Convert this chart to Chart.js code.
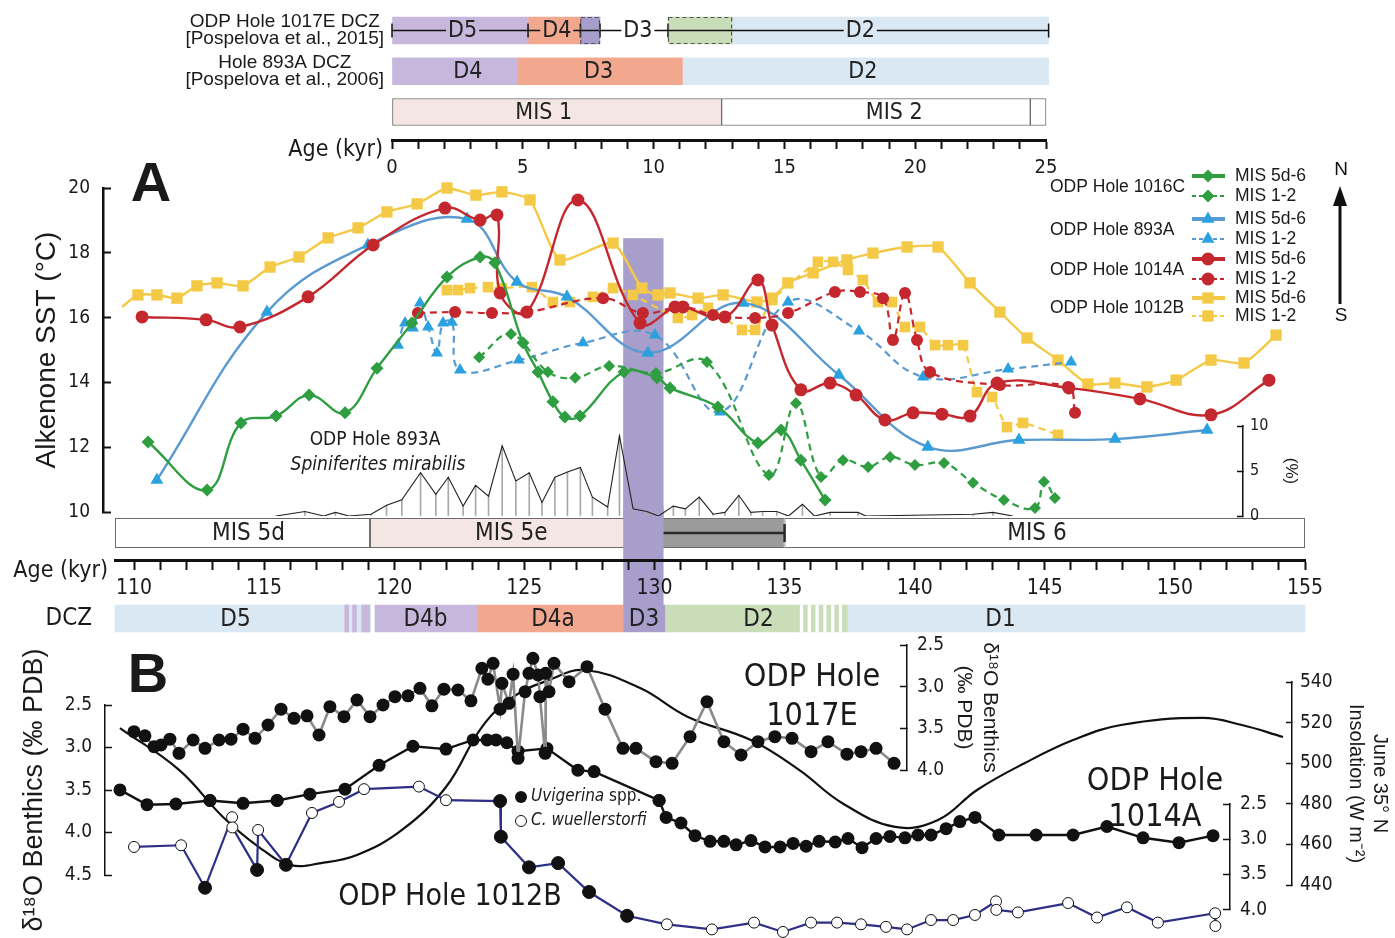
<!DOCTYPE html>
<html>
<head>
<meta charset="utf-8">
<title>Alkenone SST and benthic d18O, MIS 1-2 and MIS 5d-6</title>
<script src="https://cdn.jsdelivr.net/npm/chart.js@4.4.1/dist/chart.umd.min.js"></script>
<style>
  html, body { margin: 0; padding: 0; background: #fff; }
  #fig { position: relative; width: 1395px; height: 938px; overflow: hidden; background: #fff; }
  #fig canvas { position: absolute; left: 0; top: 0; }
</style>
</head>
<body>
<div id="fig"></div>
<script>
// ---------- data (ages in kyr) ----------

// zone bars above panel A (upper age axis, 0-25 kyr)
const dcz1017 = ['D5', 'D4', '', 'D3', '', 'D2'];
const dcz1017Ages = [[0, 5.2], [5.2, 7.2], [7.2, 7.95], [7.95, 10.55], [10.55, 13.0], [13.0, 25.1]];
const dcz1017LabelAt = [2.7, 6.3, null, 9.4, null, 17.9];
const timeline1017 = [0, 5.2, 7.2, 7.95, 10.55, 25.1];
const dcz893 = ['D4', 'D3', 'D2'];
const dcz893Ages = [[0, 4.8], [4.8, 11.1], [11.1, 25.1]];
const dcz893LabelAt = [2.9, 7.9, 18.0];
const mis12 = ['MIS 1', 'MIS 2', ''];
const mis12Ages = [[0, 12.6], [12.6, 24.4], [24.4, 25.0]];
const mis12LabelAt = [5.8, 19.2, null];

// zone bars below panel A (lower age axis, 110-155 kyr)
const mis5 = ['MIS 5d', 'MIS 5e', '', 'MIS 6'];
const mis5Ages = [[109.27, 119.07], [119.07, 130.1], [130.1, 135.0], [135.0, 155.0]];
const mis5LabelAt = [114.4, 124.5, null, 144.7];
const misErrorBar = [130.1, 135.0];
const dczZones = ['D5', 'D4b', 'D4a', 'D3', 'D2', '', 'D1'];
const dczAges = [[109.27, 119.1], [119.26, 123.2], [123.2, 128.8], [128.8, 130.4], [130.4, 135.4], [135.4, 137.4], [137.4, 155.0]];
const dczLabelAt = [113.9, 121.2, 126.1, 129.6, 134.0, null, 143.3];
const dczStripesD5 = [[118.1, 118.25], [118.4, 118.55], [118.75, 119.05]];
const dczStripesD2 = [[135.6, 135.7], [135.9, 136.0], [136.2, 136.3], [136.5, 136.6], [136.8, 136.9], [137.1, 137.2]];
const bandAges = [128.8, 130.35];
const bandTopSST = 18.45;

// panel A: alkenone SST (degC); *_5 = MIS 5d-6 (lower axis), *_1 = MIS 1-2 (upper axis)
const sst1016C_5 = [[110.54, 12.16], [112.81, 10.68], [114.11, 12.75], [115.46, 12.96], [116.73, 13.61], [118.11, 13.06],
  [119.34, 14.44], [120.68, 15.83], [122.03, 17.25], [123.30, 17.87], [123.87, 17.69], [124.95, 15.22], [125.53, 14.32],
  [126.10, 13.40], [126.56, 12.93], [127.14, 12.96], [128.83, 14.32], [130.10, 14.14], [130.60, 13.83], [132.44, 13.24],
  [133.98, 12.13], [134.87, 12.53], [135.63, 11.60], [136.56, 10.37]];
const sst1016C_1 = [[3.33, 14.78], [4.55, 15.49], [5.96, 14.32], [7.00, 14.14], [8.30, 14.51], [10.09, 14.29], [12.04, 14.63],
  [14.41, 11.14], [15.44, 13.36], [16.40, 11.08], [17.24, 11.60], [18.20, 11.39], [19.04, 11.70], [19.99, 11.45],
  [21.10, 11.51], [22.21, 10.90], [23.39, 10.37], [24.58, 10.12], [24.92, 10.93], [25.34, 10.43]];
const sst893A_5 = [[110.88, 10.99], [115.11, 16.17], [118.99, 18.24], [122.80, 19.04], [124.72, 17.10], [126.64, 16.64],
  [129.75, 14.91], [133.41, 16.45], [137.09, 14.23], [140.51, 12.01], [144.01, 12.22], [147.70, 12.25], [151.24, 12.53]];
const sst893A_1 = [[0.23, 15.15], [0.50, 15.83], [0.80, 15.68], [1.07, 16.45], [1.38, 15.71], [1.72, 14.91], [1.95, 15.83],
  [2.29, 15.86], [2.60, 14.38], [4.85, 14.69], [7.30, 15.22], [10.05, 15.46], [12.54, 13.09], [15.14, 16.48],
  [17.85, 15.59], [20.30, 14.17], [23.55, 14.41], [25.96, 14.63]];
const sst1014A_5 = [[110.31, 16.02], [112.77, 15.93], [114.07, 15.71], [116.69, 16.64], [119.19, 18.24], [121.95, 19.38],
  [123.30, 19.01], [123.95, 19.17], [124.07, 16.76], [125.10, 16.17], [127.06, 19.63], [129.45, 15.83], [130.79, 16.33],
  [131.10, 16.33], [132.71, 16.02], [133.98, 17.16], [134.52, 15.77], [135.63, 13.77], [136.75, 13.98], [137.75, 13.61],
  [138.86, 12.84], [139.94, 13.06], [141.05, 13.02], [142.13, 12.96], [143.17, 13.98], [145.93, 13.83], [148.66, 13.49],
  [151.39, 13.00], [153.62, 14.07]];
const sst1014A_1 = [[0.99, 16.14], [2.41, 16.17], [3.82, 16.14], [5.16, 16.17], [8.07, 16.60], [9.59, 16.14], [11.12, 16.33],
  [12.27, 16.08], [13.88, 15.99], [15.14, 16.14], [16.93, 16.79], [17.89, 16.79], [18.77, 16.60], [19.15, 15.31],
  [19.61, 16.76], [20.07, 15.31], [20.57, 14.32], [23.24, 13.92], [25.84, 13.86], [26.11, 13.06]];
const sst1012B_5 = [[109.54, 16.33], [110.15, 16.70], [110.88, 16.70], [111.65, 16.60], [112.42, 16.98], [113.19, 17.07],
  [114.19, 16.98], [115.23, 17.56], [116.34, 17.87], [117.46, 18.46], [118.61, 18.77], [119.72, 19.26], [120.88, 19.51],
  [122.03, 20.00], [123.14, 19.78], [124.14, 19.88], [125.22, 19.63], [126.37, 17.78], [128.41, 18.30], [129.52, 16.91],
  [130.14, 16.70], [130.60, 16.76], [131.68, 16.60], [132.64, 16.70], [133.94, 16.48], [134.52, 16.60], [135.13, 17.07],
  [136.10, 17.38], [137.40, 17.78], [138.40, 17.99], [139.71, 18.18], [140.90, 18.18], [142.13, 17.07], [143.28, 16.17],
  [144.32, 15.37], [145.51, 14.69], [146.66, 13.95], [147.70, 13.98], [148.93, 13.86], [150.05, 14.07], [151.39, 14.69],
  [152.66, 14.60], [153.89, 15.46]];
const sst1012B_1 = [[2.10, 16.85], [2.52, 16.85], [2.98, 16.91], [3.67, 16.94], [4.20, 16.91], [5.35, 16.94], [6.15, 16.48],
  [6.80, 16.48], [7.68, 16.64], [8.45, 16.91], [9.21, 16.70], [10.93, 15.99], [11.47, 16.08], [12.08, 16.30],
  [13.38, 15.62], [13.88, 15.62], [14.53, 16.54], [16.28, 17.72], [16.86, 17.72], [17.43, 17.47], [18.00, 17.16],
  [18.58, 16.48], [19.11, 16.48], [19.61, 15.71], [20.18, 15.71], [20.76, 15.15], [21.25, 15.15], [21.83, 15.15],
  [22.36, 13.70], [22.94, 13.55], [23.51, 12.62], [24.12, 12.75], [25.46, 12.38]];

// ODP Hole 893A Spiniferites mirabilis (%)
const spin893A = [[113.55, 0.0], [114.80, 0.5], [115.61, 0.0], [116.12, 0.4], [116.71, 0.0], [117.66, 0.2],
  [118.33, 1.2], [118.99, 1.8], [119.80, 4.8], [120.46, 2.4], [121.00, 4.3], [121.64, 1.1], [122.18, 3.4],
  [122.74, 2.2], [123.33, 7.8], [123.92, 3.9], [124.50, 4.8], [125.05, 1.5], [125.61, 4.3], [126.15, 4.9],
  [126.71, 5.4], [127.23, 2.1], [127.89, 1.0], [128.40, 8.9], [128.99, 0.8], [129.58, 0.5], [130.09, 0.0],
  [130.73, 1.1], [131.25, 0.8], [131.85, 2.1], [132.45, 0.2], [132.96, 0.4], [133.56, 2.3], [134.08, 0.4],
  [134.59, 0.5], [135.20, 0.5], [135.71, 0.0], [136.31, 1.3], [136.83, 0.0], [137.51, 0.4], [138.71, 0.4],
  [139.06, 0.0], [143.69, 0.2], [144.55, 0.4], [145.40, 0.0]];

// panel B: benthic d18O (per mil PDB) and June 35N insolation (W m-2)
const d18O_1017E = [[110.00, 3.54], [110.42, 3.59], [110.77, 3.72], [111.04, 3.70], [111.38, 3.63], [111.73, 3.80],
  [112.27, 3.64], [112.73, 3.74], [113.27, 3.64], [113.73, 3.63], [114.19, 3.51], [114.65, 3.62], [115.15, 3.46],
  [115.65, 3.27], [116.15, 3.38], [116.65, 3.35], [117.11, 3.58], [117.53, 3.24], [118.07, 3.36], [118.57, 3.16],
  [119.07, 3.36], [119.57, 3.22], [120.03, 3.12], [120.53, 3.11], [120.99, 3.02], [121.45, 3.23], [121.91, 3.03],
  [122.45, 3.04], [122.95, 3.17], [123.37, 2.78], [123.60, 2.91], [123.80, 2.72], [124.07, 3.27], [124.14, 2.96],
  [124.41, 3.20], [124.57, 2.85], [124.76, 3.86], [125.03, 3.06], [125.18, 2.84], [125.33, 2.66], [125.53, 2.86],
  [125.60, 3.12], [125.80, 3.80], [125.82, 2.84], [125.95, 3.06], [126.14, 2.72], [126.72, 2.94], [127.41, 2.76],
  [128.10, 3.27], [128.79, 3.74], [129.29, 3.74], [130.06, 3.90], [130.68, 3.92], [131.37, 3.60], [132.02, 3.18],
  [132.67, 3.66], [133.33, 3.82], [133.98, 3.66], [134.63, 3.60], [135.29, 3.62], [136.02, 3.78], [136.67, 3.66],
  [137.40, 3.81], [137.94, 3.78], [138.52, 3.74], [139.21, 3.92]];
const d18O_1014A = [[109.46, 2.30], [110.50, 2.51], [111.61, 2.50], [112.92, 2.45], [114.19, 2.49], [115.50, 2.45],
  [116.76, 2.36], [118.11, 2.29], [119.42, 1.95], [120.72, 1.68], [121.99, 1.72], [123.03, 1.59], [123.57, 1.59],
  [123.91, 1.59], [124.33, 1.63], [124.76, 1.75], [125.87, 1.71], [127.06, 2.02], [127.68, 2.04], [130.18, 2.45],
  [130.45, 2.69], [131.02, 2.77], [131.56, 2.95], [132.14, 3.03], [132.67, 3.03], [133.14, 3.08], [133.71, 3.02],
  [134.25, 3.11], [134.83, 3.11], [135.33, 3.06], [135.83, 3.10], [136.33, 3.03], [136.95, 3.04], [137.44, 2.99],
  [137.98, 3.12], [138.52, 2.99], [139.05, 2.96], [139.63, 2.98], [140.13, 2.94], [140.63, 2.94], [141.21, 2.85],
  [141.74, 2.75], [142.32, 2.69], [143.24, 2.94], [144.67, 2.94], [146.09, 2.94], [147.39, 2.82], [148.78, 2.98],
  [150.16, 3.05], [151.47, 2.95]];
const d18O_1012B = [[110.00, 4.17], [111.81, 4.15], [112.73, 4.65], [113.77, 3.82], [113.78, 3.94], [114.73, 4.44],
  [114.77, 3.97], [115.84, 4.38], [116.84, 3.77], [117.88, 3.64], [118.84, 3.49], [120.95, 3.46], [121.99, 3.62],
  [124.07, 3.63], [124.10, 4.05], [125.18, 4.41], [126.30, 4.36], [127.49, 4.70], [128.95, 4.98], [130.48, 5.08],
  [132.21, 5.14], [133.83, 5.06], [134.94, 5.17], [136.02, 5.06], [137.02, 5.06], [137.94, 5.08], [138.90, 5.11],
  [139.71, 5.14], [140.63, 5.03], [141.48, 5.03], [142.32, 4.97], [143.13, 4.81], [143.14, 4.91], [143.97, 4.94],
  [145.90, 4.83], [147.01, 5.00], [148.16, 4.88], [149.35, 5.06], [151.55, 4.95], [151.56, 5.10]];
// U = Uvigerina spp., C = C. wuellerstorfi
const species1012B = ['C', 'C', 'U', 'C', 'C', 'U', 'C', 'U', 'C', 'C', 'C', 'C', 'C', 'U', 'U', 'U', 'U', 'U', 'U', 'C',
  'C', 'C', 'C', 'C', 'C', 'C', 'C', 'C', 'C', 'C', 'C', 'C', 'C', 'C', 'C', 'C', 'C', 'C', 'C', 'C'];
const insolation35N = [[109.46, 517.3], [111.73, 496.7], [113.42, 473.5], [114.80, 458.7], [116.00, 449.9], [117.19, 450.8],
  [118.57, 454.8], [120.30, 467.1], [121.99, 488.3], [123.37, 517.8], [124.57, 532.6], [125.95, 541.0], [127.33, 545.9],
  [129.45, 537.0], [131.29, 522.8], [133.71, 511.4], [135.56, 496.7], [137.21, 480.4], [139.25, 468.6], [140.90, 472.0],
  [142.40, 486.8], [144.24, 500.1], [146.09, 511.4], [147.93, 518.8], [151.08, 522.3], [152.58, 518.8], [154.16, 512.9]];

const legendHoles = ['ODP Hole 1016C', 'ODP Hole 893A', 'ODP Hole 1014A', 'ODP Hole 1012B'];
const legendEntries = ['MIS 5d-6', 'MIS 1-2'];

// ---------- layout and style ----------
const W = 1395, H = 938;
const NARROW = "'Liberation Sans Narrow', 'DejaVu Sans Condensed', 'Liberation Sans', sans-serif";
const SANS = "'Liberation Sans', Arial, sans-serif";
const ageAt = px => 110 + (px - 134) / 26.02;   // lower age axis
const topAgeAt = px => (px - 392) / 26.16;      // upper age axis
const ROW_PX = 40.75;                            // row spacing of the upper zone bars
const rowMin = -(30.5 - 10) / ROW_PX;
const rowMax = rowMin + (140 - 10) / ROW_PX;

const C = {
  lav: '#c8b7dd', salmon: '#f2a78f', purple: '#a89ecb', green: '#c9ddb8',
  blue: '#d9e8f3', pink: '#f4e6e3', grey: '#9b9b9b', ink: '#1a1a1a'
};
// 1016C, 893A, 1014A, 1012B
const sstStyles = [
  { line: '#2f9e41', point: '#2f9e41', pt: 'rectRot', r: 6.5 },
  { line: '#5a9ad0', point: '#2ba2df', pt: 'triangle', r: 7.5 },
  { line: '#c4282e', point: '#c4282e', pt: 'circle', r: 6.5 },
  { line: '#f4c945', point: '#f4c945', pt: 'rect', r: 8 }
];

Chart.defaults.font.family = NARROW;
Chart.defaults.color = C.ink;

const pts = arr => arr.map(p => ({ x: p[0], y: p[1] }));

function makeCanvas() {
  const c = document.createElement('canvas');
  c.width = W;
  c.height = H;
  document.getElementById('fig').appendChild(c);
  return c;
}

function base(pad, extra) {
  return {
    responsive: false,
    animation: false,
    devicePixelRatio: 1,
    events: [],
    layout: { padding: pad },
    plugins: Object.assign({ legend: { display: false }, tooltip: { enabled: false } }, extra || {})
  };
}

const drawPoint = (Chart.helpers && Chart.helpers.drawPoint) || function (ctx, o, x, y) {
  ctx.beginPath();
  ctx.arc(x, y, o.radius, 0, Math.PI * 2);
  ctx.fill();
};

function textPlugin(id, items) {
  return {
    id,
    afterDraw(chart) {
      const ctx = chart.ctx;
      items.forEach(it => {
        ctx.save();
        ctx.font = it.font;
        ctx.fillStyle = it.color || C.ink;
        ctx.textAlign = it.align || 'center';
        ctx.textBaseline = 'middle';
        ctx.fillText(it.t, it.x, it.y);
        ctx.restore();
      });
    }
  };
}

// points that fall outside a short axis range are still drawn
const outsidePoints = {
  id: 'outsidePoints',
  afterDatasetsDraw(chart) {
    const a = chart.chartArea;
    const big = { left: -1e4, top: -1e4, right: 1e4, bottom: 1e4 };
    chart.data.datasets.forEach((ds, i) => {
      const meta = chart.getDatasetMeta(i);
      if (meta.type !== 'line') return;
      meta.data.forEach(el => {
        if (el.y < a.top - 2 || el.y > a.bottom + 2 || el.x < a.left - 2 || el.x > a.right + 2) el.draw(chart.ctx, big);
      });
    });
  }
};

// floating bars, one dataset per zone
function zoneDatasets(rows, barOpts) {
  const sets = [];
  rows.forEach(row => {
    row.ages.forEach((a, i) => {
      sets.push(Object.assign({
        type: 'bar', data: [{ x: a, y: row.key }], order: 3, grouped: false, clip: false,
        backgroundColor: row.fill[i],
        borderColor: row.outline ? '#6b6b6b' : row.fill[i],
        borderWidth: row.outline ? 1 : 0,
        borderSkipped: false,
        zoneLabel: row.names ? row.names[i] : '',
        labelAt: row.at ? row.at[i] : null,
        dashed: row.dashed ? row.dashed[i] : false,
        breakLine: !!row.breakLine,
        isZone: true
      }, barOpts));
    });
  });
  return sets;
}

function stripeDatasets(stripes, color, key) {
  return stripes.map(a => ({
    type: 'bar', data: [{ x: a, y: key }], order: 2, grouped: false, clip: false, backgroundColor: color,
    borderWidth: 0, barPercentage: 1, categoryPercentage: 1
  }));
}

const zoneLabelPlugin = {
  id: 'zoneLabels',
  afterDatasetsDraw(chart, args, opts) {
    const ctx = chart.ctx;
    const xs = chart.scales.x;
    chart.data.datasets.forEach((ds, i) => {
      if (!ds.isZone) return;
      const el = chart.getDatasetMeta(i).data[0];
      if (!el) return;
      const l = Math.min(el.x, el.base), r = Math.max(el.x, el.base);
      ctx.save();
      if (ds.dashed) {
        ctx.setLineDash([4, 3]);
        ctx.strokeStyle = '#555';
        ctx.lineWidth = 1.2;
        ctx.strokeRect(l + 0.5, el.y - el.height / 2 + 0.5, r - l - 1, el.height - 1);
        ctx.setLineDash([]);
      }
      if (ds.zoneLabel) {
        const cx = ds.labelAt != null ? xs.getPixelForValue(ds.labelAt) : (l + r) / 2;
        ctx.font = opts.font;
        ctx.textAlign = 'center';
        ctx.textBaseline = 'middle';
        if (ds.breakLine) {
          const w = ctx.measureText(ds.zoneLabel).width;
          ctx.fillStyle = ds.backgroundColor;
          ctx.fillRect(cx - w / 2 - 2, el.y - 10, w + 4, 20);
        }
        ctx.fillStyle = '#222';
        ctx.fillText(ds.zoneLabel, cx, el.y + 1);
      }
      ctx.restore();
    });
  }
};

// ---------- zone bars and upper age axis ----------
const rowLabels = [['ODP Hole 1017E DCZ', '[Pospelova et al., 2015]'], ['Hole 893A DCZ', '[Pospelova et al., 2006]']];
const topRows = [
  { key: 0, names: dcz1017, ages: dcz1017Ages, at: dcz1017LabelAt, breakLine: true,
    fill: [C.lav, C.salmon, C.purple, '#ffffff', C.green, C.blue],
    dashed: [false, false, true, false, true, false] },
  { key: 1, names: dcz893, ages: dcz893Ages, at: dcz893LabelAt, fill: [C.lav, C.salmon, C.blue] },
  { key: 2, names: mis12, ages: mis12Ages, at: mis12LabelAt, fill: [C.pink, '#ffffff', '#ffffff'], outline: true }
];

new Chart(makeCanvas(), {
  type: 'bar',
  data: {
    datasets: [
      ...zoneDatasets(topRows, { barThickness: 27 }),
      {
        type: 'line', order: 1, clip: false,
        data: timeline1017.map(a => ({ x: a, y: 0 })),
        borderColor: '#111', borderWidth: 1.3,
        pointStyle: 'line', rotation: 90, pointRadius: 7,
        pointBorderColor: '#111', pointBorderWidth: 1.5
      }
    ]
  },
  options: Object.assign(base({ left: 150, right: 349, top: 10, bottom: 758 }, { zoneLabels: { font: `23px ${NARROW}` } }), {
    indexAxis: 'y',
    scales: {
      x: {
        type: 'linear', min: 0, max: 25, position: 'bottom',
        afterFit: s => { s.height = 40; },
        ticks: { stepSize: 1, autoSkip: false, maxRotation: 0, padding: 7, font: { size: 20 },
          callback: v => (v % 5 === 0 ? v : '') },
        grid: { drawOnChartArea: false, tickLength: 9, tickWidth: 2, tickColor: '#111' },
        border: { width: 3, color: '#111' }
      },
      y: {
        type: 'linear', reverse: true, offset: false, min: rowMin, max: rowMax,
        afterBuildTicks: s => { s.ticks = [{ value: 0 }, { value: 1 }]; },
        afterFit: s => { s.width = 242; s.paddingTop = 0; s.paddingBottom = 0; },
        grid: { display: false, drawTicks: false },
        border: { display: false },
        ticks: { crossAlign: 'center', padding: 8, font: { size: 19, family: SANS, lineHeight: 0.92 },
          callback: v => rowLabels[v] }
      }
    }
  }),
  plugins: [zoneLabelPlugin, textPlugin('topAgeTitle', [{ t: 'Age (kyr)', x: 383, y: 150, align: 'right', font: `23px ${NARROW}` }])]
});

// ---------- panel A: SST ----------
const sstSeries = [
  { data: sst1012B_5, s: 3, top: false, order: 7 }, { data: sst1012B_1, s: 3, top: true, order: 8 },
  { data: sst893A_5, s: 1, top: false, order: 5 }, { data: sst893A_1, s: 1, top: true, order: 6 },
  { data: sst1014A_5, s: 2, top: false, order: 3 }, { data: sst1014A_1, s: 2, top: true, order: 4 },
  { data: sst1016C_5, s: 0, top: false, order: 1 }, { data: sst1016C_1, s: 0, top: true, order: 2 }
];

const bandPluginA = {
  id: 'bandA',
  beforeDatasetsDraw(chart) {
    const { ctx, chartArea } = chart;
    const xs = chart.scales.x, ys = chart.scales.y;
    const x1 = xs.getPixelForValue(bandAges[0]), x2 = xs.getPixelForValue(bandAges[1]);
    const y1 = ys.getPixelForValue(bandTopSST);
    ctx.save();
    ctx.fillStyle = C.purple;
    ctx.fillRect(x1, y1, x2 - x1, chartArea.bottom + 6 - y1);
    ctx.restore();
  }
};

const sstLegend = {
  id: 'sstLegend',
  afterDraw(chart) {
    const ctx = chart.ctx;
    const rowY = [[176, 196], [219, 239], [259, 279], [298, 316]];
    ctx.save();
    ctx.textBaseline = 'middle';
    ctx.textAlign = 'left';
    legendHoles.forEach((name, k) => {
      const s = sstStyles[k];
      ctx.font = `17.5px ${SANS}`;
      ctx.fillStyle = C.ink;
      ctx.fillText(name, 1050, (rowY[k][0] + rowY[k][1]) / 2 + 1);
      rowY[k].forEach((y, j) => {
        ctx.strokeStyle = s.line;
        ctx.lineWidth = j ? 2 : 4;
        ctx.setLineDash(j ? [4, 3] : []);
        ctx.beginPath();
        ctx.moveTo(1192, y);
        ctx.lineTo(1225, y);
        ctx.stroke();
        ctx.setLineDash([]);
        ctx.fillStyle = s.point;
        drawPoint(ctx, { pointStyle: s.pt, radius: s.r, rotation: 0, borderWidth: 0 }, 1208, y);
        ctx.fillStyle = C.ink;
        ctx.fillText(legendEntries[j], 1235, y);
      });
    });
    // north-south arrow
    ctx.strokeStyle = '#111';
    ctx.fillStyle = '#111';
    ctx.lineWidth = 3;
    ctx.beginPath();
    ctx.moveTo(1340, 304);
    ctx.lineTo(1340, 200);
    ctx.stroke();
    ctx.beginPath();
    ctx.moveTo(1340, 186);
    ctx.lineTo(1333, 206);
    ctx.lineTo(1347, 206);
    ctx.closePath();
    ctx.fill();
    ctx.font = `19px ${SANS}`;
    ctx.textAlign = 'center';
    ctx.fillText('N', 1341, 170);
    ctx.fillText('S', 1341, 316);
    ctx.restore();
  }
};

new Chart(makeCanvas(), {
  type: 'line',
  data: {
    datasets: sstSeries.map(d => {
      const s = sstStyles[d.s];
      const dashed = d.top;
      const skipFirst = d.data === sst1012B_5;
      return {
        data: pts(d.data), xAxisID: d.top ? 'xTop' : 'x', yAxisID: 'y', order: d.order, clip: false,
        borderColor: s.line, borderWidth: dashed ? 2.2 : 2.4, borderDash: dashed ? [7, 5] : [],
        tension: d.s === 3 ? 0.2 : 0.4,
        pointStyle: s.pt, pointBackgroundColor: s.point, pointBorderColor: s.point, pointBorderWidth: 0,
        pointRadius: ctx => (skipFirst && ctx.dataIndex === 0 ? 0 : s.r - (dashed ? 0.5 : 0))
      };
    })
  },
  options: Object.assign(base({ left: 30, right: 90, top: 188, bottom: 426 }), {
    scales: {
      x: { type: 'linear', min: ageAt(103), max: ageAt(1305), display: false },
      xTop: { type: 'linear', min: topAgeAt(103), max: topAgeAt(1305), display: false },
      y: {
        type: 'linear', position: 'left', min: 10, max: 20,
        afterFit: s => { s.width = 73; },
        ticks: { stepSize: 2, padding: 21, font: { size: 19 } },
        grid: { drawOnChartArea: false, tickLength: -8, tickWidth: 2, tickColor: '#111' },
        border: { width: 2.5, color: '#111' },
        title: { display: true, text: 'Alkenone SST (°C)', font: { size: 28, family: SANS }, padding: { top: 0, bottom: 0 } }
      }
    }
  }),
  plugins: [bandPluginA, sstLegend, textPlugin('textA', [
    { t: 'A', x: 151, y: 186, font: `bold 56px ${SANS}` },
    { t: 'ODP Hole 893A', x: 375, y: 440, font: `19px ${NARROW}` },
    { t: 'Spiniferites mirabilis', x: 378, y: 465, font: `italic 19px ${NARROW}` }
  ])]
});

// MIS 5d-6 bar and lower age axis
const bandPluginM = {
  id: 'bandM',
  afterDatasetsDraw(chart) {
    const xs = chart.scales.x;
    const x1 = xs.getPixelForValue(bandAges[0]), x2 = xs.getPixelForValue(bandAges[1]);
    chart.ctx.save();
    chart.ctx.fillStyle = C.purple;
    chart.ctx.fillRect(x1, 506, x2 - x1, 99);
    chart.ctx.restore();
  }
};

new Chart(makeCanvas(), {
  type: 'bar',
  data: {
    labels: ['mis'],
    datasets: [
      ...zoneDatasets([{ key: 'mis', names: mis5, ages: mis5Ages, at: mis5LabelAt, fill: ['#ffffff', C.pink, C.grey, '#ffffff'], outline: true }],
        { barPercentage: 0.556, categoryPercentage: 1 }),
      {
        type: 'line', order: 1, clip: false,
        data: misErrorBar.map(a => ({ x: a, y: 'mis' })),
        borderColor: '#2a2a2a', borderWidth: 2.5,
        pointStyle: 'line', rotation: 90, pointRadius: 9,
        pointBorderColor: '#2a2a2a', pointBorderWidth: 2.5
      }
    ]
  },
  options: Object.assign(base({ left: 115, right: 90, top: 506, bottom: 338 }, { zoneLabels: { font: `24px ${NARROW}` } }), {
    indexAxis: 'y',
    scales: {
      x: {
        type: 'linear', min: ageAt(115), max: 155,
        afterFit: s => { s.height = 40; },
        ticks: { z: 1, stepSize: 1, includeBounds: false, autoSkip: false, maxRotation: 0, padding: 6, font: { size: 21 },
          callback: v => (v % 5 === 0 ? v : '') },
        grid: { z: 1, drawOnChartArea: false, tickLength: 10, tickWidth: 2, tickColor: '#111' },
        border: { z: 1, width: 3, color: '#111' }
      },
      y: { type: 'category', display: false }
    }
  }),
  plugins: [zoneLabelPlugin, bandPluginM, textPlugin('botAgeTitle', [{ t: 'Age (kyr)', x: 108, y: 571, align: 'right', font: `23px ${NARROW}` }])]
});

// dinocyst zones (DCZ), ODP Hole 893A
new Chart(makeCanvas(), {
  type: 'bar',
  data: {
    labels: ['DCZ'],
    datasets: [
      ...stripeDatasets(dczStripesD5, C.lav, 'DCZ'),
      ...stripeDatasets(dczStripesD2, '#ffffff', 'DCZ'),
      ...zoneDatasets([{ key: 'DCZ', names: dczZones, ages: dczAges, at: dczLabelAt,
        fill: [C.blue, C.lav, C.salmon, C.purple, C.green, C.green, C.blue] }], { barPercentage: 1, categoryPercentage: 1 })
    ]
  },
  options: Object.assign(base({ left: 30, right: 90, top: 605, bottom: 306 }, { zoneLabels: { font: `24px ${NARROW}` } }), {
    indexAxis: 'y',
    scales: {
      x: { type: 'linear', min: ageAt(115), max: 155, display: false },
      y: {
        type: 'category',
        afterFit: s => { s.width = 85; },
        grid: { display: false, drawTicks: false },
        border: { display: false },
        ticks: { padding: 23, font: { size: 24 } }
      }
    }
  }),
  plugins: [zoneLabelPlugin]
});

// Spiniferites mirabilis percentages
new Chart(makeCanvas(), {
  type: 'line',
  data: {
    datasets: [
      { type: 'line', data: pts(spin893A), borderColor: '#222', borderWidth: 1.1, pointRadius: 0, tension: 0, order: 1 },
      { type: 'bar', data: pts(spin893A), backgroundColor: '#a8a8a8', barThickness: 1, order: 2 }
    ]
  },
  options: Object.assign(base({ left: 103, right: 92, top: 426, bottom: 422 }), {
    scales: {
      x: { type: 'linear', min: ageAt(103), max: ageAt(1243), display: false },
      y: {
        type: 'linear', position: 'right', min: 0, max: 10,
        afterFit: s => { s.width = 60; },
        ticks: { stepSize: 5, padding: 13, font: { size: 16 } },
        grid: { drawOnChartArea: false, tickLength: -6, tickWidth: 1.5, tickColor: '#111' },
        border: { width: 1.5, color: '#111' },
        title: { display: true, text: '(%)', font: { size: 17, family: SANS }, padding: { top: 2, bottom: 0 } }
      }
    }
  })
});

// ---------- panel B ----------
function benthicAxis(position, min, max, width, padding, title) {
  return {
    type: 'linear', position, reverse: true, min, max,
    afterFit: s => { s.width = width; },
    ticks: { stepSize: 0.5, padding, font: { size: 19 }, callback: v => v.toFixed(1) },
    grid: { drawOnChartArea: false, tickLength: -7, tickWidth: 1.5, tickColor: '#111' },
    border: { width: 1.5, color: '#111' },
    title: title ? { display: true, text: title.text, font: { size: title.size, family: SANS }, padding: { top: title.pad, bottom: 0 } } : { display: false }
  };
}

function bChart(pad, right, y, datasets, plugins) {
  return new Chart(makeCanvas(), {
    type: 'line',
    data: { datasets },
    options: Object.assign(base(pad), {
      scales: {
        x: { type: 'linear', min: ageAt(105), max: ageAt(right), display: false },
        y
      }
    }),
    plugins: [outsidePoints].concat(plugins || [])
  });
}

const benthicLegend = {
  id: 'benthicLegend',
  afterDraw(chart) {
    const ctx = chart.ctx;
    ctx.save();
    ctx.fillStyle = '#111';
    ctx.beginPath();
    ctx.arc(521, 797, 6, 0, Math.PI * 2);
    ctx.fill();
    ctx.fillStyle = '#fff';
    ctx.strokeStyle = '#111';
    ctx.lineWidth = 1;
    ctx.beginPath();
    ctx.arc(521, 821, 5.5, 0, Math.PI * 2);
    ctx.fill();
    ctx.stroke();
    ctx.fillStyle = C.ink;
    ctx.textBaseline = 'middle';
    ctx.textAlign = 'left';
    ctx.font = `italic 17px ${NARROW}`;
    ctx.fillText('Uvigerina', 531, 797);
    const w = ctx.measureText('Uvigerina').width;
    ctx.font = `17px ${NARROW}`;
    ctx.fillText(' spp.', 531 + w, 797);
    ctx.font = `italic 17px ${NARROW}`;
    ctx.fillText('C. wuellerstorfi', 531, 821);
    ctx.restore();
  }
};

// insolation
bChart({ left: 105, right: 3, top: 682, bottom: 53 }, 1292, {
  type: 'linear', position: 'right', min: 440, max: 540,
  afterFit: s => { s.width = 100; },
  ticks: { stepSize: 20, padding: 14, font: { size: 19 } },
  grid: { drawOnChartArea: false, tickLength: -6, tickWidth: 1.5, tickColor: '#111' },
  border: { width: 1.5, color: '#111' },
  title: { display: true, text: ['June 35° N', 'Insolation (W m⁻²)'], font: { size: 20, family: SANS }, padding: { top: 0, bottom: 0 } }
}, [{
  data: pts(insolation35N), borderColor: '#111', borderWidth: 2.2, pointRadius: 0, tension: 0.4, clip: false
}], [textPlugin('textB', [
  { t: 'B', x: 148, y: 677, font: `bold 56px ${SANS}` },
  { t: 'ODP Hole', x: 812, y: 678, font: `32px ${NARROW}` },
  { t: '1017E', x: 812, y: 717, font: `32px ${NARROW}` },
  { t: 'ODP Hole', x: 1155, y: 782, font: `32px ${NARROW}` },
  { t: '1014A', x: 1155, y: 818, font: `32px ${NARROW}` },
  { t: 'ODP Hole 1012B', x: 450, y: 897, font: `30px ${NARROW}` }
]), benthicLegend]);

// ODP Hole 1012B, left axis
bChart({ left: 16, right: 90, top: 705, bottom: 63 }, 1305,
  benthicAxis('left', 2.5, 4.5, 89, 20, { text: 'δ¹⁸O Benthics (‰ PDB)', size: 27, pad: 2 }),
  [{
    data: pts(d18O_1012B), borderColor: '#2e2f86', borderWidth: 2.2, tension: 0, clip: false,
    pointRadius: species1012B.map(s => (s === 'U' ? 6.5 : 5.5)),
    pointBackgroundColor: species1012B.map(s => (s === 'U' ? '#111' : '#fff')),
    pointBorderColor: '#111', pointBorderWidth: 1
  }]);

// ODP Hole 1014A
bChart({ left: 105, right: 115, top: 804, bottom: 6 }, 1230,
  benthicAxis('right', 2.5, 4.0, 50, 17, null),
  [{
    data: pts(d18O_1014A), borderColor: '#111', borderWidth: 2.4, tension: 0, clip: false,
    pointRadius: 6.5, pointBackgroundColor: '#111', pointBorderColor: '#111', pointBorderWidth: 0
  }]);

// ODP Hole 1017E
bChart({ left: 105, right: 393, top: 645, bottom: 168 }, 907,
  benthicAxis('right', 2.5, 4.0, 95, 17, { text: ['δ¹⁸O Benthics', '(‰ PDB)'], size: 21, pad: 0 }),
  [{
    data: pts(d18O_1017E), borderColor: '#8a8a8a', borderWidth: 2.6, tension: 0, clip: false,
    pointRadius: 6.5, pointBackgroundColor: '#111', pointBorderColor: '#111', pointBorderWidth: 0
  }]);
</script>
</body>
</html>
